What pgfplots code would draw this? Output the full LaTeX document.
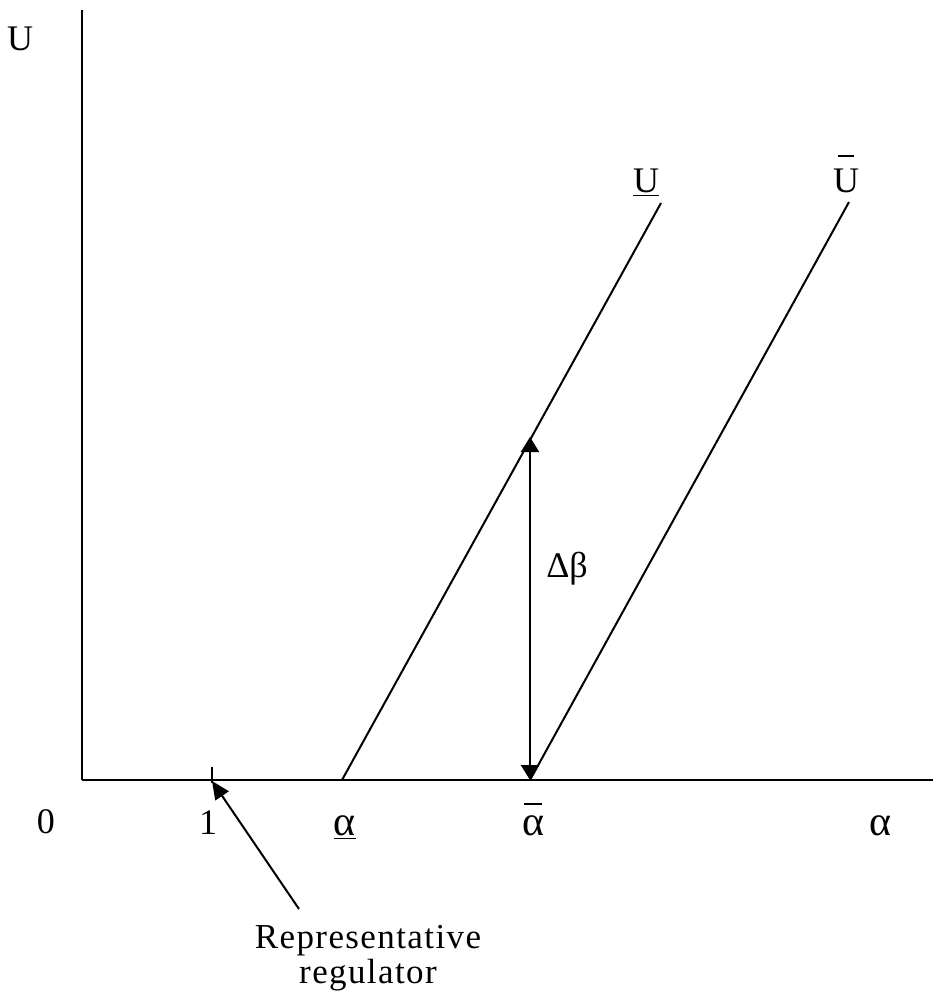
\documentclass[border=0pt]{standalone}
\usepackage{fontspec}
\setmainfont{Liberation Serif}
\usepackage{pgfplots}
\pgfplotsset{compat=1.18}
\usetikzlibrary{arrows.meta}

% short bar set at a given height over a letter
\newcommand{\barred}[2]{%
  \setbox0=\hbox{#2}%
  \rlap{\hbox to \wd0{\hss\raisebox{#1}{\rule{0.42em}{0.045em}}\hss}}\box0}

\tikzset{
  lbl/.style={font=\fontsize{18}{21}\selectfont, anchor=base, inner sep=0pt},
  greek/.style={font=\fontsize{21}{24}\selectfont, anchor=base, inner sep=0pt},
  note/.style={font=\fontsize{17.5}{20}\selectfont\addfontfeatures{LetterSpace=4}, anchor=base, inner sep=0pt},
}

\begin{document}
\begin{tikzpicture}
\begin{axis}[
  scale only axis,
  width=425.5pt, height=385pt,
  xmin=0, xmax=851, ymin=0, ymax=770,
  axis lines=left,
  axis line style={-, line width=1.4pt},
  xtick=\empty, ytick=\empty,
  clip=false,
]
% the two schedules
\addplot[black, line width=1pt] coordinates {(260,0) (579,577)};
\addplot[black, line width=1pt] coordinates {(448,0) (767,578)};
% delta beta gap
\addplot[black, line width=1.1pt, {Triangle[length=7.5pt,width=9pt]}-{Triangle[length=7.5pt,width=9pt]}]
  coordinates {(448,0) (448,343)};
% tick at 1
\addplot[black, line width=1.1pt] coordinates {(130,-3) (130,13)};
% pointer to representative regulator
\addplot[black, line width=1pt, -{Triangle[length=9pt,width=8pt]}]
  coordinates {(217,-129) (130,-1)};

\node[lbl] at (axis cs:-62,730) {U};
\node[lbl] at (axis cs:-36,-53) {0};
\node[lbl] at (axis cs:126,-54) {1};
\node[greek] at (axis cs:263,-55) {\underline{α}};
\node[greek] at (axis cs:451,-55) {\barred{15pt}{α}};
\node[greek] at (axis cs:798,-55) {α};
\node[lbl] at (axis cs:564,588) {\underline{U}};
\node[lbl] at (axis cs:764,588) {\barred{17.5pt}{U}};
\node[lbl] at (axis cs:485,203) {Δβ};
\node[note] at (axis cs:286,-168) {Representative};
\node[note] at (axis cs:286,-203) {regulator};

% keep the page the size of the reference
\path (axis cs:-82,-223) rectangle (axis cs:851,780);
\end{axis}
\end{tikzpicture}
\end{document}
